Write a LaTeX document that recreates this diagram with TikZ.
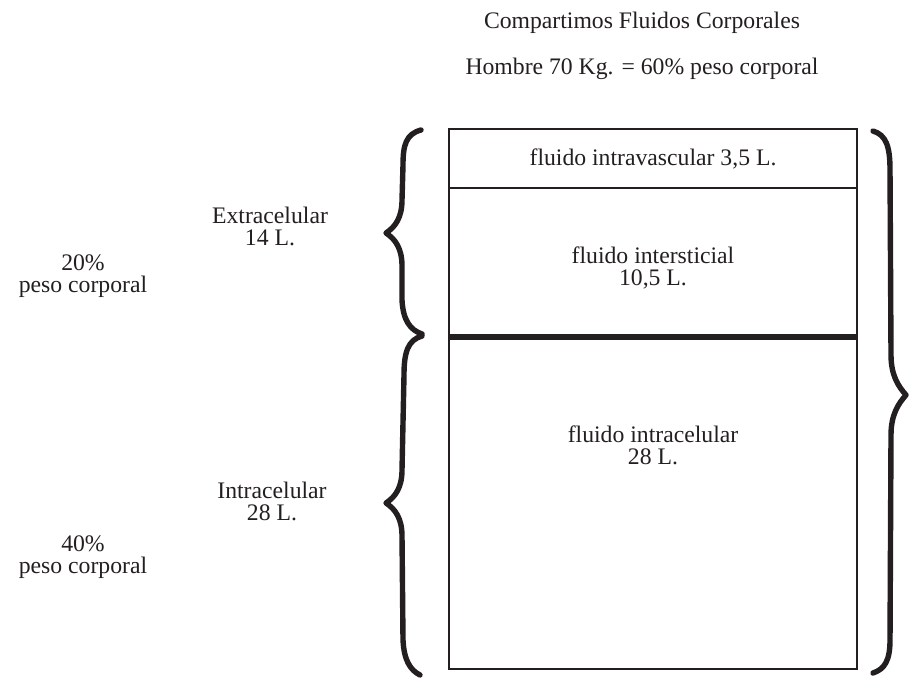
\documentclass[tikz,border=0pt]{standalone}
\usepackage{fontspec}
\setmainfont{Liberation Serif}
\usepackage{tikz}
\definecolor{ink}{HTML}{231F20}

\begin{document}
\begin{tikzpicture}[x=0.5pt, y=-0.5pt,
  every node/.style={font=\fontsize{11.85}{11}\selectfont, text=ink, align=center, inner sep=0pt},
  curly/.style={draw=ink, line width=2.7pt, line cap=round, line join=round}]
\useasboundingbox (0,0) rectangle (909,679);
% titulo
\node (titulo) at (642,23) {Compartimos Fluidos Corporales};
\node (hombre) at (642,69) {Hombre 70 Kg. = 60\% peso corporal};
% caja de compartimentos
\draw[ink, line width=0.8pt] (449,129) rectangle (857,669);
\draw[ink, line width=0.8pt] (449,188) -- (857,188);
\draw[ink, line width=3pt] (449,337) -- (857,337);
\node (vascular) at (653,159) {fluido intravascular 3,5 L.};
\node (intersticial) at (653,268) {fluido intersticial\\10,5 L.};
\node (intracel) at (653,445) {fluido intracelular\\28 L.};
% llaves
\draw[curly] (421,130) .. controls (406,134) and (403,145) .. (403,165) -- (402,200)
  .. controls (402,218) and (395,227) .. (386,233) .. controls (395,239) and (402,248) .. (402,266)
  -- (402,300) .. controls (403,320) and (410,330) .. (422,334);
\draw[curly] (422,336) .. controls (408,340) and (404,352) .. (404,375) -- (402,470)
  .. controls (402,488) and (395,497) .. (386,503) .. controls (395,509) and (402,518) .. (402,536)
  -- (403,640) .. controls (404,660) and (410,670) .. (420,675);
\draw[curly] (873,131) .. controls (886,135) and (890,146) .. (890,170) -- (891,355)
  .. controls (891,375) and (898,386) .. (906,395) .. controls (898,404) and (891,415) .. (891,435)
  -- (890,640) .. controls (890,660) and (885,669) .. (873,673);
% etiquetas
\node (extra) at (270,226) {Extracelular\\14 L.};
\node (intra) at (272,501) {Intracelular\\28 L.};
\node (veinte) at (83,276) {20\%\\peso corporal};
\node (cuarenta) at (83,557) {40\%\\peso corporal};
\end{tikzpicture}
\end{document}
